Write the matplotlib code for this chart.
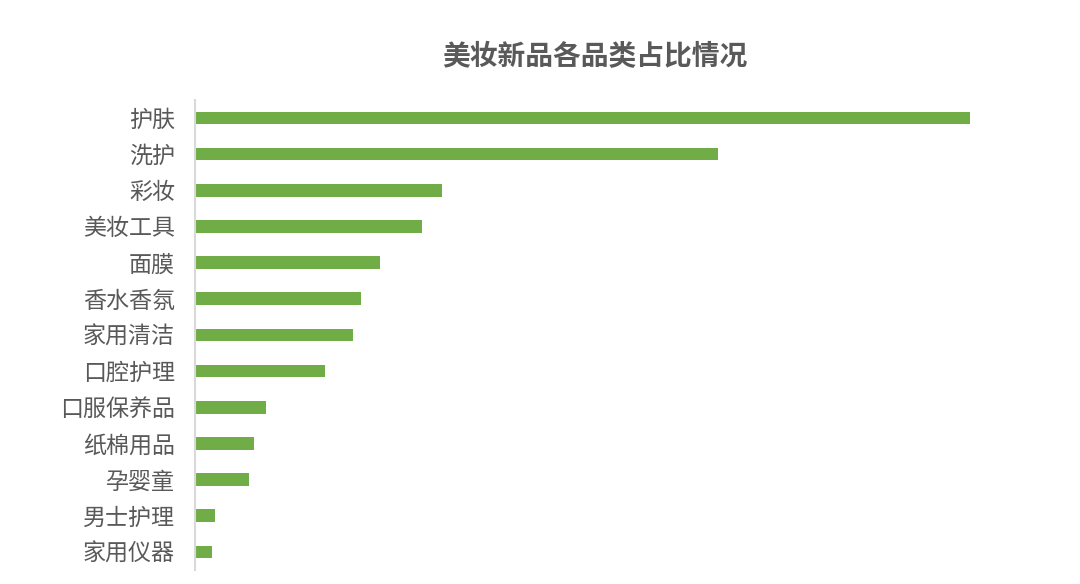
import matplotlib.pyplot as plt

plt.rcParams['font.family'] = ['Noto Sans CJK SC', 'DejaVu Sans']

# categories, top to bottom
categories = ['护肤', '洗护', '彩妆', '美妆工具', '面膜', '香水香氛', '家用清洁',
              '口腔护理', '口服保养品', '纸棉用品', '孕婴童', '男士护理', '家用仪器']
# share (%)
shares = [29.5, 19.9, 9.4, 8.65, 7.05, 6.33, 6.03, 4.96, 2.72, 2.28, 2.07, 0.78, 0.68]

fig = plt.figure(figsize=(10.8, 5.84), dpi=100)
ax = fig.add_axes([0.1801, 0.024, 0.755, 0.805])

ax.barh(range(len(categories)), shares, height=0.35, color='#70AD47')
ax.set_ylim(len(categories) - 0.5, -0.5)
ax.set_xlim(0, 31)

ax.set_yticks(range(len(categories)))
ax.set_yticklabels(categories, fontsize=16.6, color='#595959')
ax.tick_params(axis='y', length=0, pad=14)
ax.set_xticks([])

for s in ['top', 'right', 'bottom']:
    ax.spines[s].set_visible(False)
ax.spines['left'].set_color('#D9D9D9')
ax.spines['left'].set_linewidth(1.5)

fig.text(0.551, 0.902, '美妆新品各品类占比情况', ha='center', va='center',
         fontsize=20, fontweight='bold', color='#595959')

fig.savefig('out.png', dpi=100)
